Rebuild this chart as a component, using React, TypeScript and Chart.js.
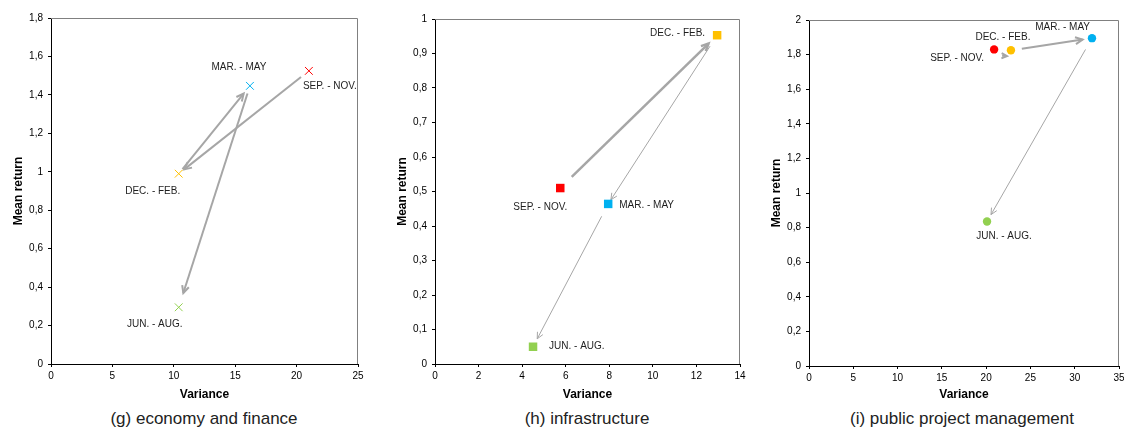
import React, { useEffect, useRef } from "react";
import { Chart, registerables } from "chart.js";

Chart.register(...registerables);

// ---------- data ----------
const seasons = ["SEP. - NOV.", "DEC. - FEB.", "MAR. - MAY", "JUN. - AUG."];
const seasonColors = ["#ff0000", "#ffc000", "#00b0f0", "#92d050"];
// transitions between consecutive seasons (from index -> to index)
const transitions: [number, number][] = [
  [0, 1],
  [1, 2],
  [2, 3],
];

// (g) economy and finance
const econVariance = [21.0, 10.4, 16.2, 10.4];
const econMean = [1.525, 0.99, 1.447, 0.295];
// (h) infrastructure
const infraVariance = [5.75, 12.95, 7.95, 4.5];
const infraMean = [0.51, 0.953, 0.464, 0.05];
// (i) public project management
const pubVariance = [20.9, 22.8, 31.95, 20.1];
const pubMean = [1.83, 1.825, 1.895, 0.835];

// axis ranges / tick steps
const econXAxis = { min: 0, max: 25, step: 5 };
const econYAxis = { min: 0, max: 1.8, step: 0.2 };
const infraXAxis = { min: 0, max: 14, step: 2 };
const infraYAxis = { min: 0, max: 1, step: 0.1 };
const pubXAxis = { min: 0, max: 35, step: 5 };
const pubYAxis = { min: 0, max: 2, step: 0.2 };

const xTitle = "Variance";
const yTitle = "Mean return";
const captions = [
  "(g) economy and finance",
  "(h) infrastructure",
  "(i) public project management",
];

// ---------- styles ----------
const FONT = "'Liberation Sans', Arial, sans-serif";
const ARROW_COLOR = "#a6a6a6";

type LabelStyle = { dx: number; dy: number; align: CanvasTextAlign };
type ArrowStyle = { s1: number; s2: number; w: number; off?: number; head?: number };

type PanelCfg = {
  left: number;
  width: number;
  height: number;
  padTop: number;
  padRight: number;
  xAxisH: number;
  xs: number[];
  ys: number[];
  xAxis: { min: number; max: number; step: number };
  yAxis: { min: number; max: number; step: number };
  pointStyle: string;
  radius: number;
  borderWidth: number;
  labels: LabelStyle[];
  arrows: ArrowStyle[];
};

const panels: PanelCfg[] = [
  {
    left: 0,
    width: 370,
    height: 402,
    padTop: 18,
    padRight: 12,
    xAxisH: 38,
    xs: econVariance,
    ys: econMean,
    xAxis: econXAxis,
    yAxis: econYAxis,
    pointStyle: "crossRot",
    radius: 5.5,
    borderWidth: 1,
    labels: [
      { dx: -6, dy: 15, align: "left" },
      { dx: -26, dy: 18, align: "center" },
      { dx: -11, dy: -19, align: "center" },
      { dx: -24, dy: 17, align: "center" },
    ],
    arrows: [
      { s1: 10, s2: 7, w: 2 },
      { s1: 6, s2: 10, w: 2 },
      { s1: 8, s2: 15, w: 2 },
    ],
  },
  {
    left: 384,
    width: 368,
    height: 402,
    padTop: 19,
    padRight: 12,
    xAxisH: 38,
    xs: infraVariance,
    ys: infraMean,
    xAxis: infraXAxis,
    yAxis: infraYAxis,
    pointStyle: "rect",
    radius: 6,
    borderWidth: 0,
    labels: [
      { dx: -20, dy: 19, align: "center" },
      { dx: -12, dy: -2, align: "right" },
      { dx: 11, dy: 1, align: "left" },
      { dx: 16, dy: -1, align: "left" },
    ],
    arrows: [
      { s1: 16, s2: 12, w: 2.5 },
      { s1: 13, s2: 5, w: 1 },
      { s1: 14, s2: 9, w: 1 },
    ],
  },
  {
    left: 758,
    width: 380,
    height: 402,
    padTop: 20,
    padRight: 19,
    xAxisH: 36,
    xs: pubVariance,
    ys: pubMean,
    xAxis: pubXAxis,
    yAxis: pubYAxis,
    pointStyle: "circle",
    radius: 4.2,
    borderWidth: 0,
    labels: [
      { dx: -10, dy: 9, align: "right" },
      { dx: -8, dy: -13, align: "center" },
      { dx: -2, dy: -11, align: "right" },
      { dx: 17, dy: 15, align: "center" },
    ],
    arrows: [
      { s1: 8, s2: 4, w: 2, off: 6, head: 6 },
      { s1: 11, s2: 9.5, w: 2 },
      { s1: 13, s2: 8, w: 1 },
    ],
  },
];

const captionCenters = [204, 587, 962];

function fmtY(v: number) {
  return String(Math.round(v * 10) / 10).replace(".", ",");
}

function drawArrow(
  ctx: CanvasRenderingContext2D,
  x1: number,
  y1: number,
  x2: number,
  y2: number,
  st: ArrowStyle
) {
  const dx = x2 - x1;
  const dy = y2 - y1;
  const len = Math.hypot(dx, dy) || 1;
  const ux = dx / len;
  const uy = dy / len;
  const off = st.off || 0;
  const ax = x1 + ux * st.s1;
  const ay = y1 + uy * st.s1 + off;
  const bx = x2 - ux * st.s2;
  const by = y2 - uy * st.s2 + off;
  const ang = Math.atan2(by - ay, bx - ax);
  const hl = st.head || (st.w >= 2 ? 8 : 7);
  const ha = 0.45;
  ctx.save();
  ctx.strokeStyle = ARROW_COLOR;
  ctx.lineWidth = st.w;
  ctx.lineCap = "butt";
  ctx.lineJoin = "miter";
  ctx.beginPath();
  ctx.moveTo(ax, ay);
  ctx.lineTo(bx, by);
  ctx.stroke();
  ctx.beginPath();
  ctx.moveTo(bx - hl * Math.cos(ang - ha), by - hl * Math.sin(ang - ha));
  ctx.lineTo(bx, by);
  ctx.lineTo(bx - hl * Math.cos(ang + ha), by - hl * Math.sin(ang + ha));
  ctx.stroke();
  ctx.restore();
}

function Panel({ cfg }: { cfg: PanelCfg }) {
  const ref = useRef<HTMLCanvasElement | null>(null);

  useEffect(() => {
    const canvas = ref.current;
    if (!canvas) return;

    const overlay = {
      id: "overlay",
      beforeDatasetsDraw(chart: any) {
        const { ctx, chartArea } = chart;
        const xs = chart.scales.x;
        const ys = chart.scales.y;
        // gray top/right frame
        ctx.save();
        ctx.strokeStyle = "#808080";
        ctx.lineWidth = 1;
        const t = Math.round(chartArea.top) + 0.5;
        const r = Math.round(chartArea.right) - 0.5;
        ctx.beginPath();
        ctx.moveTo(chartArea.left, t);
        ctx.lineTo(r, t);
        ctx.lineTo(r, chartArea.bottom);
        ctx.stroke();
        ctx.restore();
        // arrows
        transitions.forEach(([a, b], k) => {
          const x1 = xs.getPixelForValue(cfg.xs[a]);
          const y1 = ys.getPixelForValue(cfg.ys[a]);
          const x2 = xs.getPixelForValue(cfg.xs[b]);
          const y2 = ys.getPixelForValue(cfg.ys[b]);
          drawArrow(ctx, x1, y1, x2, y2, cfg.arrows[k]);
        });
      },
      afterDatasetsDraw(chart: any) {
        const { ctx } = chart;
        const xs = chart.scales.x;
        const ys = chart.scales.y;
        ctx.save();
        ctx.font = `10px ${FONT}`;
        ctx.fillStyle = "#1e1e1e";
        ctx.textBaseline = "middle";
        seasons.forEach((s, i) => {
          const l = cfg.labels[i];
          ctx.textAlign = l.align;
          ctx.fillText(
            s,
            xs.getPixelForValue(cfg.xs[i]) + l.dx,
            ys.getPixelForValue(cfg.ys[i]) + l.dy
          );
        });
        ctx.restore();
      },
    };

    const chart = new Chart(canvas, {
      type: "scatter",
      data: {
        datasets: [
          {
            data: cfg.xs.map((x, i) => ({ x, y: cfg.ys[i] })),
            pointStyle: cfg.pointStyle as any,
            pointRadius: cfg.radius,
            pointHoverRadius: cfg.radius,
            pointBackgroundColor: seasonColors,
            pointBorderColor: seasonColors,
            pointBorderWidth: cfg.borderWidth,
            showLine: false,
          },
        ],
      },
      options: {
        responsive: false,
        animation: false,
        events: [],
        layout: {
          padding: { left: 0, top: cfg.padTop, right: cfg.padRight, bottom: 0 },
        },
        plugins: {
          legend: { display: false },
          tooltip: { enabled: false },
          title: { display: false },
        },
        scales: {
          x: {
            type: "linear",
            min: cfg.xAxis.min,
            max: cfg.xAxis.max,
            ticks: {
              stepSize: cfg.xAxis.step,
              font: { family: FONT, size: 10 },
              color: "#000",
              padding: 3,
              maxRotation: 0,
              autoSkip: false,
            },
            grid: {
              display: true,
              drawOnChartArea: false,
              drawTicks: true,
              tickLength: 3,
              color: "#000",
              lineWidth: 1,
            },
            border: { display: true, color: "#000", width: 1 },
            title: {
              display: true,
              text: xTitle,
              font: { family: FONT, size: 12, weight: "bold" },
              color: "#000",
              padding: { top: 0, bottom: 0 },
            },
            afterFit: (s: any) => {
              s.height = cfg.xAxisH;
            },
          },
          y: {
            type: "linear",
            min: cfg.yAxis.min,
            max: cfg.yAxis.max,
            ticks: {
              stepSize: cfg.yAxis.step,
              font: { family: FONT, size: 10 },
              color: "#000",
              padding: 5,
              autoSkip: false,
              callback: (v: any) => fmtY(Number(v)),
            },
            grid: {
              display: true,
              drawOnChartArea: false,
              drawTicks: true,
              tickLength: 3,
              color: "#000",
              lineWidth: 1,
            },
            border: { display: true, color: "#000", width: 1 },
            title: {
              display: true,
              text: yTitle,
              font: { family: FONT, size: 12, weight: "bold" },
              color: "#000",
              padding: { top: 11, bottom: 0 },
            },
            afterFit: (s: any) => {
              s.width = 51;
            },
          },
        },
      } as any,
      plugins: [overlay],
    });

    return () => chart.destroy();
  }, [cfg]);

  return (
    <canvas
      ref={ref}
      width={cfg.width}
      height={cfg.height}
      style={{
        position: "absolute",
        left: cfg.left,
        top: 0,
        width: cfg.width,
        height: cfg.height,
      }}
    />
  );
}

export default function App() {
  return (
    <div
      style={{
        position: "absolute",
        left: 0,
        top: 0,
        width: 1124,
        height: 427,
        overflow: "hidden",
        background: "#fff",
      }}
    >
      {panels.map((p, i) => (
        <Panel key={i} cfg={p} />
      ))}
      {captions.map((c, i) => (
        <div
          key={c}
          style={{
            position: "absolute",
            left: captionCenters[i] - 160,
            width: 320,
            top: 409,
            textAlign: "center",
            fontFamily: FONT,
            fontSize: 17,
            lineHeight: "19px",
            color: "#222",
            whiteSpace: "nowrap",
          }}
        >
          {c}
        </div>
      ))}
    </div>
  );
}
